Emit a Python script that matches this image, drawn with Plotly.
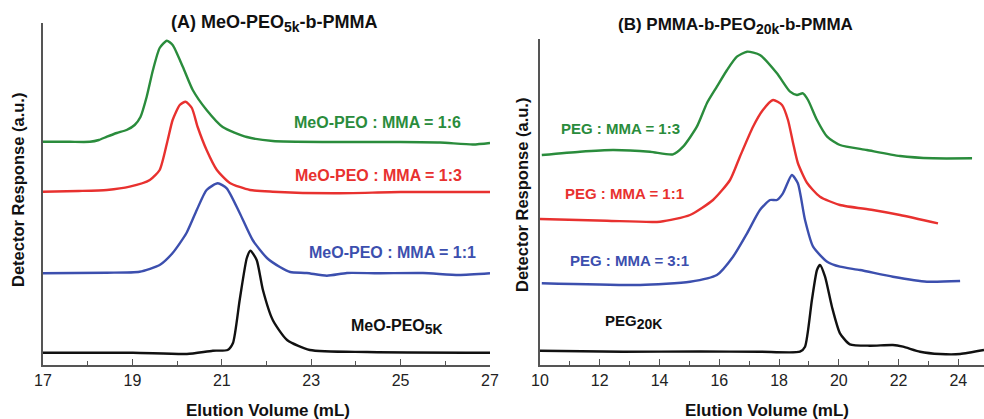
import plotly.graph_objects as go

# ---------------- Panel A: MeO-PEO5k-b-PMMA ----------------
a_green_x = [17.0, 17.6, 18.05, 18.25, 18.43, 18.65, 18.87, 19.05, 19.18, 19.32, 19.46, 19.61, 19.77,
             19.90, 20.13, 20.35, 20.66, 21.02, 21.56, 22.14, 23.42, 24.99, 25.88, 26.62, 27.0]
a_green_y = [2.233, 2.232, 2.232, 2.25, 2.283, 2.32, 2.35, 2.40, 2.48, 2.683, 2.95, 3.17, 3.243,
             3.20, 2.98, 2.75, 2.55, 2.38, 2.28, 2.24, 2.23, 2.23, 2.225, 2.205, 2.22]

a_red_x = [17.0, 17.8, 18.43, 18.94, 19.39, 19.61, 19.79, 19.90, 20.06, 20.19, 20.33, 20.46, 20.66,
           20.89, 21.18, 21.63, 22.14, 23.5, 25.0, 27.0]
a_red_y = [1.733, 1.74, 1.75, 1.783, 1.85, 1.95, 2.25, 2.45, 2.60, 2.633, 2.57, 2.38, 2.15,
           1.95, 1.82, 1.75, 1.733, 1.717, 1.73, 1.73]

a_blue_x = [17.0, 18.43, 19.16, 19.61, 19.90, 20.21, 20.44, 20.66, 20.91, 21.11, 21.40, 21.69,
            22.01, 22.30, 22.53, 22.90, 23.35, 23.80, 24.50, 25.50, 26.30, 27.0]
a_blue_y = [0.917, 0.923, 0.933, 1.00, 1.12, 1.32, 1.55, 1.75, 1.817, 1.767, 1.52, 1.25,
            1.07, 0.98, 0.93, 0.92, 0.893, 0.92, 0.917, 0.92, 0.90, 0.917]

a_black_x = [17.0, 19.01, 20.22, 20.80, 21.13, 21.25, 21.40, 21.56, 21.64, 21.78, 21.92, 22.14,
             22.46, 22.97, 24.25, 27.0]
a_black_y = [0.123, 0.123, 0.11, 0.143, 0.15, 0.22, 0.65, 1.07, 1.143, 1.05, 0.75, 0.45,
             0.25, 0.15, 0.13, 0.123]

# ---------------- Panel B: PMMA-b-PEO20k-b-PMMA ----------------
b_green_x = [10.06, 11.34, 12.44, 13.68, 14.45, 14.79, 15.25, 15.59, 15.92, 16.26, 16.59, 16.93,
             17.36, 17.93, 18.37, 18.60, 18.80, 18.97, 19.27, 19.61, 20.04, 20.94, 22.05, 23.15, 24.46]
b_green_y = [2.10, 2.133, 2.15, 2.133, 2.107, 2.183, 2.383, 2.62, 2.783, 2.95, 3.083, 3.133,
             3.10, 2.917, 2.733, 2.70, 2.717, 2.65, 2.45, 2.283, 2.20, 2.15, 2.09, 2.067, 2.067]

b_red_x = [10.0, 12.24, 14.02, 15.02, 15.79, 16.36, 16.69, 17.13, 17.46, 17.80, 18.10, 18.30,
           18.47, 18.63, 18.94, 19.37, 20.04, 21.14, 22.05, 23.32]
b_red_y = [1.46, 1.443, 1.433, 1.50, 1.65, 1.85, 2.083, 2.383, 2.55, 2.65, 2.60, 2.45,
           2.22, 2.02, 1.82, 1.683, 1.60, 1.55, 1.50, 1.417]

b_blue_x = [10.06, 13.35, 15.02, 15.92, 16.46, 16.93, 17.36, 17.70, 17.93, 18.13, 18.43, 18.63,
            18.87, 19.14, 19.61, 20.04, 20.71, 21.81, 22.95, 24.06]
b_blue_y = [0.817, 0.80, 0.833, 0.90, 1.083, 1.317, 1.55, 1.65, 1.65, 1.717, 1.90, 1.817,
            1.45, 1.183, 1.033, 0.983, 0.95, 0.883, 0.833, 0.84]

b_black_x = [10.0, 12.78, 15.35, 17.36, 18.70, 18.87, 19.10, 19.27, 19.37, 19.54, 19.77, 20.04,
             20.37, 21.04, 21.81, 22.15, 22.72, 23.39, 24.06, 24.86]
b_black_y = [0.143, 0.133, 0.135, 0.133, 0.133, 0.183, 0.65, 0.95, 1.00, 0.883, 0.583, 0.317,
             0.207, 0.193, 0.20, 0.183, 0.133, 0.11, 0.11, 0.15]

GREEN = "#2a8c3c"
RED = "#e8312f"
BLUE = "#3c4fae"
BLACK = "#111111"
AXIS = "#555555"
FONT = "Liberation Sans, Arial, sans-serif"

fig = go.Figure()

def add(x, y, color, xa, ya):
    fig.add_trace(go.Scatter(x=x, y=y, mode="lines", xaxis=xa, yaxis=ya,
                             line=dict(color=color, width=2.4, shape="spline", smoothing=0.6),
                             hoverinfo="skip", showlegend=False))

add(a_green_x, a_green_y, GREEN, "x", "y")
add(a_red_x, a_red_y, RED, "x", "y")
add(a_blue_x, a_blue_y, BLUE, "x", "y")
add(a_black_x, a_black_y, BLACK, "x", "y")
add(b_green_x, b_green_y, GREEN, "x2", "y2")
add(b_red_x, b_red_y, RED, "x2", "y2")
add(b_blue_x, b_blue_y, BLUE, "x2", "y2")
add(b_black_x, b_black_y, BLACK, "x2", "y2")

W, H = 984, 419
def px(x): return x / W
def py(y): return 1 - y / H

xcommon = dict(showline=True, linecolor=AXIS, linewidth=1.5, ticks="inside", ticklen=6,
               tickcolor=AXIS, tickwidth=1.2, dtick=2, showgrid=False, zeroline=False,
               automargin=False,
               tickfont=dict(family=FONT, size=16, color="#222222"),
               minor=dict(dtick=1, ticks="inside", ticklen=4, tickcolor=AXIS, showgrid=False))
ycommon = dict(showline=True, linecolor=AXIS, linewidth=1.5, ticks="", showticklabels=False,
               showgrid=False, zeroline=False, automargin=False)

fig.update_layout(
    width=W, height=H, margin=dict(l=0, r=0, t=0, b=0, pad=0, autoexpand=False),
    plot_bgcolor="white", paper_bgcolor="white",
    xaxis=dict(domain=[px(43), px(490)], range=[17, 27], tick0=17, anchor="y", **xcommon),
    yaxis=dict(domain=[py(365), py(23)], range=[0, 3.42], anchor="x", **ycommon),
    xaxis2=dict(domain=[px(540), 1.0], range=[10, 24.86], tick0=10, anchor="y2", **xcommon),
    yaxis2=dict(domain=[py(365), py(39)], range=[0, 3.26], anchor="x2", **ycommon),
)

def ann(text, x, y, color="#111111", size=15, angle=0):
    fig.add_annotation(text=text, x=px(x), y=py(y), xref="paper", yref="paper",
                       showarrow=False, xanchor="center", yanchor="middle", textangle=angle,
                       font=dict(family=FONT, size=size, color=color))

SUB = "<sub><span style='font-size:14px'>{}</span></sub>"

ann("<b>(A) MeO-PEO" + SUB.format("5k") + "-b-PMMA</b>", 274, 24, size=18)
ann("<b>(B) PMMA-b-PEO" + SUB.format("20k") + "-b-PMMA</b>", 735, 26, size=17)
ann("<b>Elution Volume (mL)</b>", 268, 410, size=17)
ann("<b>Elution Volume (mL)</b>", 767, 410, size=17)
ann("<b>Detector Response (a.u.)</b>", 18, 190, size=16.5, angle=-90)
ann("<b>Detector Response (a.u.)</b>", 522, 195, size=16.5, angle=-90)

ann("<b>MeO-PEO : MMA = 1:6</b>", 377, 122, GREEN, 16)
ann("<b>MeO-PEO : MMA = 1:3</b>", 378, 175, RED, 16)
ann("<b>MeO-PEO : MMA = 1:1</b>", 392, 252, BLUE, 16)
ann("<b>MeO-PEO" + SUB.format("5K") + "</b>", 397, 327, BLACK, 16)

ann("<b>PEG : MMA = 1:3</b>", 620, 128, GREEN, 15)
ann("<b>PEG : MMA = 1:1</b>", 624, 193, RED, 15)
ann("<b>PEG : MMA = 3:1</b>", 629, 260, BLUE, 15)
ann("<b>PEG" + SUB.format("20K") + "</b>", 633, 322, BLACK, 15)

fig.write_html("out.html", config={"displayModeBar": False},
               post_script="document.body.style.margin='0px';")
